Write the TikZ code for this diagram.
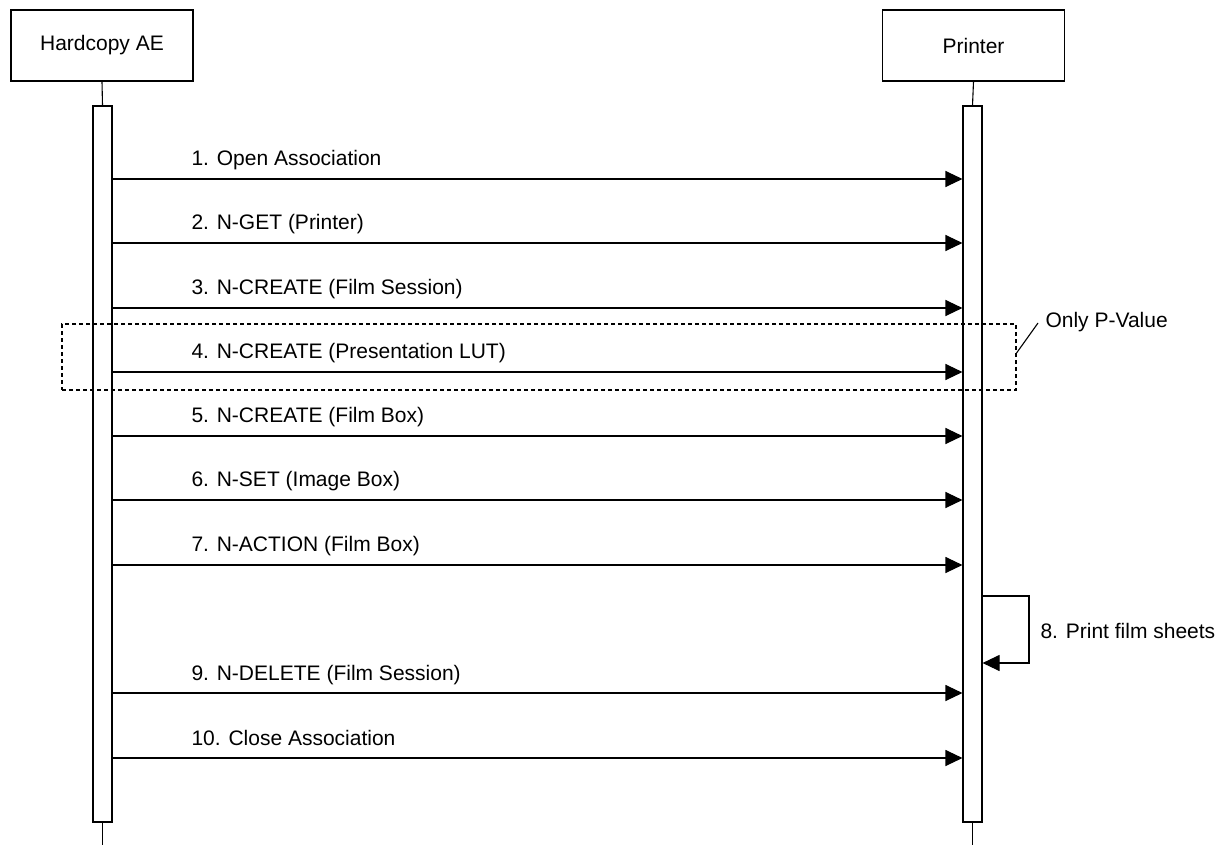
\documentclass[tikz,border=0pt]{standalone}
\usepackage{fontspec}
\setmainfont{Liberation Sans}
\usetikzlibrary{arrows.meta}

\tikzset{
    actor/.style={draw, rectangle, minimum width=182pt, minimum height=71pt, inner sep=0pt},
    actbar/.style={draw, rectangle, minimum width=19pt, minimum height=716pt, inner sep=0pt},
    msg/.style={-{Triangle[length=17pt,width=16pt]}},
    msglabel/.style={anchor=base west, inner sep=0pt},
    group/.style={draw, dash pattern=on 4pt off 3pt, minimum width=954pt, minimum height=66pt, inner sep=0pt},
}

\begin{document}
\begin{tikzpicture}[x=1pt, y=-1pt, line width=1.1pt,
        every node/.append style={font=\fontsize{21}{25}\selectfont}]
    \useasboundingbox (0,0) rectangle (1230,845);

    % actors and activation bars
    \node[actor] (hc) at (102,45.5) {Hardcopy AE};
    \node[actor] (pr) at (973.5,45.5) {Printer};
    \node[actbar] (hcbar) at (102.5,464) {};
    \node[actbar] (prbar) at (972.5,464) {};
    \coordinate (bottom) at (0,845);

    \draw (hc.south) -- (hcbar.north);
    \draw (pr.south) -- (prbar.north);
    \draw (hcbar.south) -- (hcbar.south |- bottom);
    \draw (prbar.south) -- (prbar.south |- bottom);

    % message heights
    \path (0,179) coordinate (m1) (0,243) coordinate (m2) (0,308) coordinate (m3)
          (0,372) coordinate (m4) (0,436) coordinate (m5) (0,500) coordinate (m6)
          (0,565) coordinate (m7) (0,693) coordinate (m9) (0,758) coordinate (m10);

    \draw[msg] (hcbar.east |- m1) -- (prbar.west |- m1);
    \node[msglabel] (l1) at (191,165) {1. Open Association};
    \draw[msg] (hcbar.east |- m2) -- (prbar.west |- m2);
    \node[msglabel] (l2) at (191,229) {2. N-GET (Printer)};
    \draw[msg] (hcbar.east |- m3) -- (prbar.west |- m3);
    \node[msglabel] (l3) at (191,294) {3. N-CREATE (Film Session)};
    \draw[msg] (hcbar.east |- m4) -- (prbar.west |- m4);
    \node[msglabel] (l4) at (191,358) {4. N-CREATE (Presentation LUT)};
    \draw[msg] (hcbar.east |- m5) -- (prbar.west |- m5);
    \node[msglabel] (l5) at (191,422) {5. N-CREATE (Film Box)};
    \draw[msg] (hcbar.east |- m6) -- (prbar.west |- m6);
    \node[msglabel] (l6) at (191,486) {6. N-SET (Image Box)};
    \draw[msg] (hcbar.east |- m7) -- (prbar.west |- m7);
    \node[msglabel] (l7) at (191,551) {7. N-ACTION (Film Box)};
    \draw[msg] (hcbar.east |- m9) -- (prbar.west |- m9);
    \node[msglabel] (l9) at (191,680) {9. N-DELETE (Film Session)};
    \draw[msg] (hcbar.east |- m10) -- (prbar.west |- m10);
    \node[msglabel] (l10) at (191,745) {10. Close Association};

    % self message
    \coordinate (s1) at (1029,596);
    \coordinate (s2) at (1029,663);
    \draw[msg] (prbar.east |- s1) -- (s1) -- (s2) -- (prbar.east |- s2);
    \node[anchor=west, inner sep=0pt] (l8) at (1040,631) {8. Print film sheets};

    % P-Value group
    \node[group] (lut) at (539,357) {};
    \node[msglabel] (note) at (1045,327) {Only P-Value};
    \draw ([yshift=4pt]lut.east) -- ([xshift=-7pt,yshift=4pt]note.base west);
\end{tikzpicture}
\end{document}
